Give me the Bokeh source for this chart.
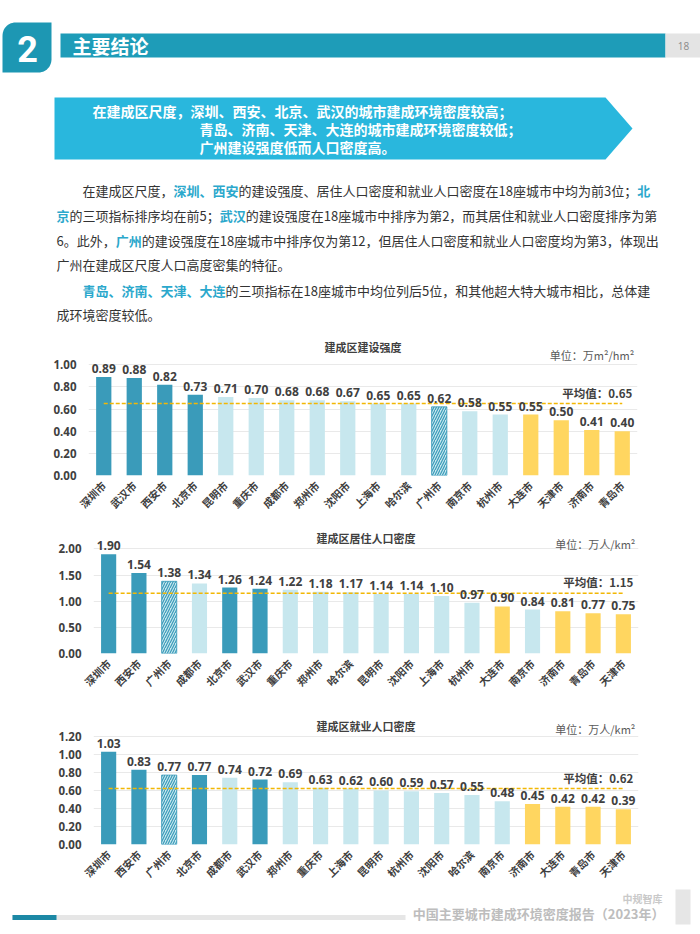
import math
import numpy as np
from bokeh.plotting import figure
from bokeh.layouts import column
from bokeh.models import FactorRange, Range1d, FixedTicker, NumeralTickFormatter, ColumnDataSource
from bokeh.core.properties import value
from bokeh.embed import file_html
from bokeh.resources import INLINE

# ---------------- data ----------------
c1_title = "建成区建设强度"
c1_unit = "单位：万m²/hm²"
c1_cities = ["深圳市", "武汉市", "西安市", "北京市", "昆明市", "重庆市", "成都市", "郑州市", "沈阳市",
             "上海市", "哈尔滨", "广州市", "南京市", "杭州市", "大连市", "天津市", "济南市", "青岛市"]
c1_vals = [0.89, 0.88, 0.82, 0.73, 0.71, 0.70, 0.68, 0.68, 0.67,
           0.65, 0.65, 0.62, 0.58, 0.55, 0.55, 0.50, 0.41, 0.40]
c1_avg = 0.65
c1_ticks = [0.0, 0.2, 0.4, 0.6, 0.8, 1.0]

c2_title = "建成区居住人口密度"
c2_unit = "单位：万人/km²"
c2_cities = ["深圳市", "西安市", "广州市", "成都市", "北京市", "武汉市", "重庆市", "郑州市", "哈尔滨",
             "昆明市", "沈阳市", "上海市", "杭州市", "大连市", "南京市", "济南市", "青岛市", "天津市"]
c2_vals = [1.90, 1.54, 1.38, 1.34, 1.26, 1.24, 1.22, 1.18, 1.17,
           1.14, 1.14, 1.10, 0.97, 0.90, 0.84, 0.81, 0.77, 0.75]
c2_avg = 1.15
c2_ticks = [0.0, 0.5, 1.0, 1.5, 2.0]

c3_title = "建成区就业人口密度"
c3_unit = "单位：万人/km²"
c3_cities = ["深圳市", "西安市", "广州市", "北京市", "成都市", "武汉市", "郑州市", "重庆市", "上海市",
             "昆明市", "杭州市", "沈阳市", "哈尔滨", "南京市", "济南市", "大连市", "青岛市", "天津市"]
c3_vals = [1.03, 0.83, 0.77, 0.77, 0.74, 0.72, 0.69, 0.63, 0.62,
           0.60, 0.59, 0.57, 0.55, 0.48, 0.45, 0.42, 0.42, 0.39]
c3_avg = 0.62
c3_ticks = [0.0, 0.2, 0.4, 0.6, 0.8, 1.0, 1.2]

dark_cities = ["深圳市", "西安市", "北京市", "武汉市"]
yellow_cities = ["青岛市", "济南市", "天津市", "大连市"]
hatch_cities = ["广州市"]

# ---------------- styles ----------------
W = 700
CJK = value("Noto Sans CJK SC")
NUM = value("Open Sans")
DARK = "#3A9BBA"
LIGHT = "#C7E7EE"
YELLOW = "#FFD660"
AVG = "#F2B705"
TXT = "#404040"
TEAL_HI = "#2BA8CC"


def canvas(top, bottom):
    p = figure(width=W, height=bottom - top, x_range=Range1d(0, W), y_range=Range1d(bottom, top),
               output_backend="svg", toolbar_location=None, title=None,
               x_axis_location=None, y_axis_location=None,
               min_border=0, min_border_left=0, min_border_right=0, min_border_top=0, min_border_bottom=0)
    p.frame_align = False
    p.grid.visible = False
    p.outline_line_color = None
    p.background_fill_color = "white"
    p.border_fill_color = "white"
    return p


def tw(s, fs):
    w = 0.0
    for ch in s:
        if ord(ch) < 128:
            w += (0.555 if ch.isdigit() else 0.5) * fs
        else:
            w += fs
    return w


# ---------------- header ----------------
hdr = canvas(0, 330)

# chapter tile with two rounded corners
x0, x1, y0, y1, r = 2, 51, 22, 72, 13
t1 = np.linspace(np.pi, 1.5 * np.pi, 14)
t2 = np.linspace(0, 0.5 * np.pi, 14)
tx = list(x0 + r + r * np.cos(t1)) + [x1] + list(x1 - r + r * np.cos(t2)) + [x0]
ty = list(y0 + r + r * np.sin(t1)) + [y0] + list(y1 - r + r * np.sin(t2)) + [y1]
hdr.patch(tx, ty, fill_color="#1D97B3", line_color=None)
hdr.text(x=[27], y=[48], text=["2"], text_font=value("Roboto"), text_font_size="36px",
         text_font_style="bold", text_color="white", text_align="center", text_baseline="middle")

# title bar
hdr.quad(left=[60], right=[665], top=[33], bottom=[57], fill_color="#1E9CB8", line_color=None)
hdr.quad(left=[665], right=[700], top=[33], bottom=[57], fill_color="#E4E4E4", line_color=None)
hdr.text(x=[72], y=[45], text=["主要结论"], text_font=CJK, text_font_size="19px", text_font_style="bold",
         text_color="white", text_align="left", text_baseline="middle")
hdr.text(x=[683], y=[45], text=["18"], text_font=NUM, text_font_size="10px",
         text_color="#8A8A8A", text_align="center", text_baseline="middle")

# banner arrow
hdr.patch([54, 605, 632, 605, 54], [97, 97, 128, 159, 159], fill_color="#29B7DD", line_color=None)
banner_lines = ["在建成区尺度，深圳、西安、北京、武汉的城市建成环境密度较高；",
                "青岛、济南、天津、大连的城市建成环境密度较低；",
                "广州建设强度低而人口密度高。"]
hdr.text(x=[92, 199, 199], y=[110, 128, 146], text=banner_lines, text_font=CJK, text_font_size="14px",
         text_font_style="bold", text_color="white", text_align="left", text_baseline="middle")

# paragraphs
para = [
    (82, 190, [("在建成区尺度，", 0), ("深圳、西安", 1),
               ("的建设强度、居住人口密度和就业人口密度在18座城市中均为前3位；", 0), ("北", 1)]),
    (56, 215, [("京", 1), ("的三项指标排序均在前5；", 0), ("武汉", 1),
               ("的建设强度在18座城市中排序为第2，而其居住和就业人口密度排序为第", 0)]),
    (56, 240, [("6。此外，", 0), ("广州", 1),
               ("的建设强度在18座城市中排序仅为第12，但居住人口密度和就业人口密度均为第3，体现出", 0)]),
    (56, 264, [("广州在建成区尺度人口高度密集的特征。", 0)]),
    (82, 290, [("青岛、济南、天津、大连", 1),
               ("的三项指标在18座城市中均位列后5位，和其他超大特大城市相比，总体建", 0)]),
    (56, 314, [("成环境密度较低。", 0)]),
]
FS = 13
px, py, pt, pc, pw = [], [], [], [], []
for sx, sy, segs in para:
    x = sx
    for s, hi in segs:
        px.append(x); py.append(sy); pt.append(s)
        pc.append(TEAL_HI if hi else "#333333"); pw.append("bold" if hi else "normal")
        x += tw(s, FS)
psrc = ColumnDataSource(dict(x=px, y=py, text=pt, color=pc, weight=pw))
hdr.text(x="x", y="y", text="text", text_color="color", text_font_style="weight", source=psrc,
         text_font=CJK, text_font_size=f"{FS}px", text_align="left", text_baseline="middle")


# ---------------- bar charts ----------------
def bar_chart(cities, vals, avg, ticks, title, unit, top, axis_y, bottom, fl, fr, ppu, t_off, u_off):
    y_end = (axis_y - top) / ppu
    p = figure(width=W, height=int(bottom - top), x_range=FactorRange(*cities), y_range=Range1d(0, y_end),
               output_backend="svg", toolbar_location=None, title=None,
               min_border_left=int(fl), min_border_right=int(W - fr), min_border_top=0,
               min_border_bottom=int(bottom - axis_y))
    p.frame_align = False
    p.outline_line_color = None
    p.background_fill_color = "white"
    p.border_fill_color = "white"
    p.xgrid.visible = False
    p.ygrid.grid_line_color = "#E9E9E9"
    p.ygrid.grid_line_width = 1
    p.yaxis.ticker = FixedTicker(ticks=ticks)
    p.yaxis.formatter = NumeralTickFormatter(format="0.00")
    for ax in (p.xaxis, p.yaxis):
        ax.axis_line_color = None
        ax.major_tick_line_color = None
        ax.minor_tick_line_color = None
        ax.major_tick_out = 0
        ax.major_tick_in = 0
        ax.major_label_text_color = TXT
        ax.major_label_text_font_style = "bold"
    p.yaxis.major_label_text_font = "Open Sans"
    p.yaxis.major_label_text_font_size = "11.5px"
    p.yaxis.major_label_standoff = 12
    p.xaxis.major_label_text_font = "Noto Sans CJK SC"
    p.xaxis.major_label_text_font_size = "10.5px"
    p.xaxis.major_label_orientation = math.pi / 4
    p.xaxis.major_label_standoff = 8

    colors = []
    for c in cities:
        if c in dark_cities:
            colors.append(DARK)
        elif c in yellow_cities:
            colors.append(YELLOW)
        else:
            colors.append(LIGHT)
    src = ColumnDataSource(dict(city=cities, val=vals, color=colors, label=[f"{v:.2f}" for v in vals]))
    p.vbar(x="city", top="val", width=0.5, fill_color="color", line_color=None, source=src)
    hc = [c for c in cities if c in hatch_cities]
    hv = [v for c, v in zip(cities, vals) if c in hatch_cities]
    p.vbar(x=hc, top=hv, width=0.5, fill_color=LIGHT, line_color=DARK, line_width=0.8,
           hatch_pattern="/", hatch_color=DARK, hatch_scale=5, hatch_weight=1.2)
    p.line(x=[cities[0], cities[-1]], y=[avg, avg], line_color=AVG, line_width=1.5, line_dash="4 2")
    p.text(x="city", y="val", text="label", source=src, text_font=NUM, text_font_size="12px",
           text_font_style="bold", text_color=TXT, text_align="center", text_baseline="bottom", y_offset=-4)
    p.text(x=[cities[-1]], y=[avg], text=[f"平均值：{avg:.2f}"], text_font=CJK, text_font_size="11.5px",
           text_font_style="bold", text_color=TXT, text_align="right", text_baseline="bottom",
           x_offset=10, y_offset=-3)
    p.text(x=[len(cities) / 2], y=[y_end], text=[title], text_font=CJK, text_font_size="11px",
           text_font_style="bold", text_color=TXT, text_align="center", text_baseline="middle", y_offset=t_off)
    p.text(x=[cities[-1]], y=[y_end], text=[unit], text_font=CJK, text_font_size="11px",
           text_color="#595959", text_align="right", text_baseline="middle", x_offset=12, y_offset=u_off)
    return p


ch1 = bar_chart(c1_cities, c1_vals, c1_avg, c1_ticks, c1_title, c1_unit, 330, 475, 528, 88, 637, 110.7, 16, 24)
ch2 = bar_chart(c2_cities, c2_vals, c2_avg, c2_ticks, c2_title, c2_unit, 528, 653, 710, 93, 638, 52.3, 9, 15)
ch3 = bar_chart(c3_cities, c3_vals, c3_avg, c3_ticks, c3_title, c3_unit, 710, 846, 888, 93, 638, 91.5, 15, 18)

# ---------------- footer ----------------
ftr = canvas(888, 934)
ftr.quad(left=[12], right=[405], top=[914.5], bottom=[919.5], fill_color="#E6E6E6", line_color=None)
ftr.quad(left=[12], right=[56], top=[914.5], bottom=[919.5], fill_color="#1C88A5", line_color=None)
ftr.quad(left=[675], right=[690], top=[889], bottom=[924], fill_color="#E6E6E6", line_color=None)
ftr.text(x=[662], y=[898], text=["中规智库"], text_font=CJK, text_font_size="10px", text_font_style="bold",
         text_color="#C9C9C9", text_align="right", text_baseline="middle")
ftr.text(x=[664], y=[913], text=["中国主要城市建成环境密度报告（2023年）"], text_font=CJK, text_font_size="13px",
         text_font_style="bold", text_color="#BDBDBD", text_align="right", text_baseline="middle")

page = column(hdr, ch1, ch2, ch3, ftr, spacing=0)
open("out.html", "w").write(file_html(page, INLINE))
